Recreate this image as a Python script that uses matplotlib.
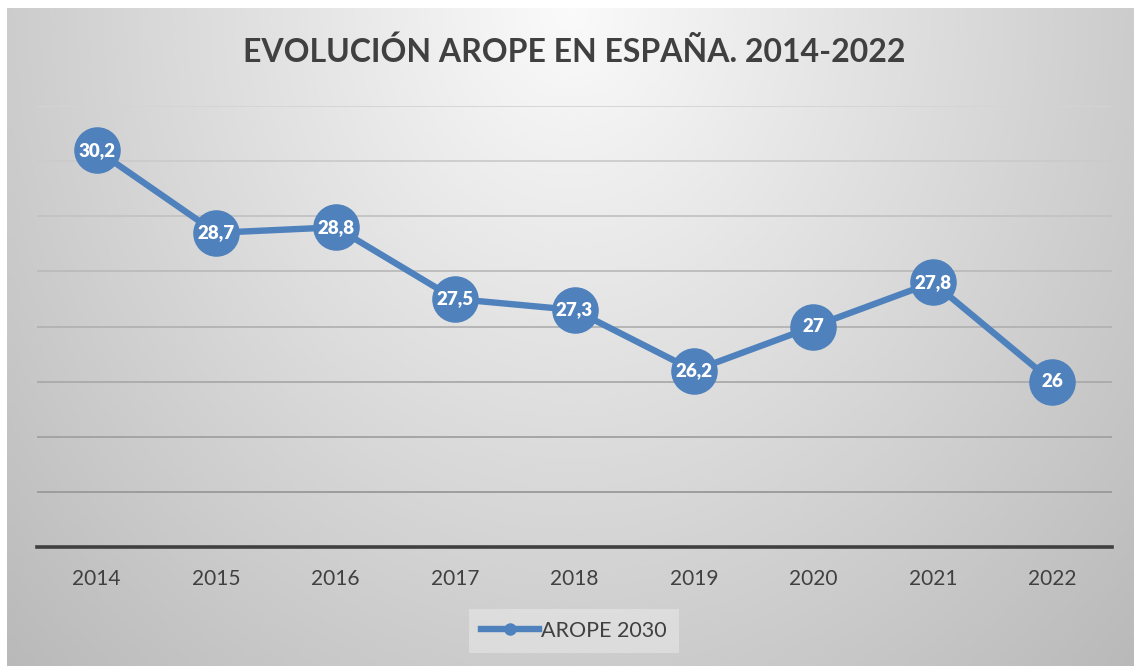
import numpy as np
import matplotlib.pyplot as plt
from matplotlib.lines import Line2D

years = ['2014', '2015', '2016', '2017', '2018', '2019', '2020', '2021', '2022']
arope = [30.2, 28.7, 28.8, 27.5, 27.3, 26.2, 27.0, 27.8, 26.0]
series_name = 'AROPE 2030'
title = 'EVOLUCIÓN AROPE EN ESPAÑA. 2014-2022'

plt.rcParams['font.family'] = ['Lato', 'DejaVu Sans']

W, H = 1134, 666
fig = plt.figure(figsize=(W / 100, H / 100), dpi=100)
fig.patch.set_facecolor('white')

# gradient background (white at top centre, grey toward edges)
bg = fig.add_axes([7 / W, 0, 1 - 7 / W, 1 - 8 / H])
gx, gy = np.meshgrid(np.linspace(0, 1, 400), np.linspace(0, 1, 240))
r = np.sqrt(((gx - 0.5) / 0.5) ** 2 + (gy / 1.0) ** 2)
shade = np.clip(250 - 46 * r, 185, 252) / 255
bg.imshow(shade, cmap='gray', vmin=0, vmax=1, aspect='auto',
          interpolation='bicubic', extent=(0, 1, 1, 0))
bg.axis('off')

ax = fig.add_axes([37 / W, 1 - 547 / H, (1112 - 37) / W, (547 - 106) / H])
ax.patch.set_alpha(0)

x = np.arange(len(years))
color = '#4F81BD'
ax.plot(x, arope, color=color, lw=4.6, marker='o', ms=32.5,
        mfc=color, mec=color, zorder=3)
for xi, v in zip(x, arope):
    lab = f'{v:g}'.replace('.', ',')
    ax.text(xi, v, lab, color='white', fontsize=13.5, fontweight='heavy',
            ha='center', va='center', zorder=4)

ax.set_xlim(-0.5, len(years) - 0.5)
ax.set_ylim(23, 31)
ax.set_yticks(range(24, 32))
ax.set_xticks(x)
ax.set_xticklabels(years)
ax.tick_params(axis='x', length=0, pad=16, labelsize=15, labelcolor='#404040')
ax.tick_params(axis='y', length=0, labelleft=False)
ax.grid(axis='y', lw=1.3)
ax.set_axisbelow(True)
glines = ax.get_ygridlines()
for i, gl in enumerate(glines):
    t = i / (len(glines) - 1)
    c = (0.60 + 0.23 * t,) * 3
    gl.set_color(c)
for s in ['top', 'left', 'right']:
    ax.spines[s].set_visible(False)
ax.spines['bottom'].set_color('#404040')
ax.spines['bottom'].set_linewidth(2.6)

fig.text(574 / W, 1 - 52 / H, title, ha='center', va='center',
         fontsize=23, fontweight='bold', color='#404040')

handle = Line2D([], [], color=color, lw=4.6, marker='o', ms=8, mfc=color, mec=color)
leg = fig.legend([handle], [series_name], loc='center',
                 bbox_to_anchor=(574 / W, 1 - 631 / H), fontsize=15.5,
                 frameon=True, fancybox=False, handlelength=2.7,
                 handletextpad=0.1, borderpad=0.55, borderaxespad=0)
leg.get_frame().set_facecolor('white')
leg.get_frame().set_alpha(0.3)
leg.get_frame().set_linewidth(0)
for t in leg.get_texts():
    t.set_color('#404040')

fig.savefig('out.png', dpi=100)
